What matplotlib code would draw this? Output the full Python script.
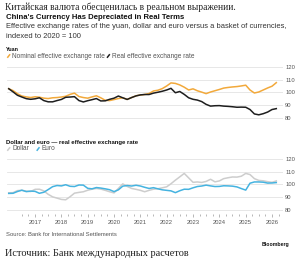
import pandas as pd
import matplotlib
matplotlib.use("Agg")
import matplotlib.pyplot as plt
from matplotlib.lines import Line2D
from matplotlib.ticker import FixedLocator, NullFormatter
import matplotlib.dates as mdates

# Data: bimonthly readings, Jan 2016 .. Mar 2026, index 2020 = 100
dates = pd.date_range("2016-01-01", periods=62, freq="2MS")

yuan_nominal = [
    103.0, 101.5, 99.0, 97.2, 96.5, 96.0, 96.6, 96.3, 95.5, 95.2,
    95.8, 96.0, 96.4, 97.0, 98.5, 99.5, 96.8, 96.0, 95.5, 96.5,
    97.4, 95.8, 93.8, 93.6, 94.4, 95.2, 95.8, 94.5, 96.0, 97.4,
    98.0, 98.4, 99.2, 101.2, 101.8, 103.1, 105.2, 107.6, 107.2, 106.0,
    104.2, 102.0, 102.9, 101.4, 100.3, 99.1, 100.4, 101.4, 102.4, 103.5,
    104.0, 104.4, 104.7, 105.2, 105.8, 102.0, 99.6, 100.4, 102.0, 103.6,
    105.0, 107.8,
]
yuan_real = [
    103.0, 100.5, 97.8, 96.4, 95.1, 94.6, 95.0, 95.8, 93.6, 92.6,
    92.6, 93.6, 94.5, 96.2, 96.4, 96.7, 93.6, 92.5, 93.5, 94.3,
    95.2, 93.3, 93.4, 94.6, 95.5, 97.2, 95.8, 94.5, 96.0, 97.3,
    98.1, 98.4, 98.4, 99.5, 100.2, 101.0, 102.0, 103.3, 99.8, 100.8,
    98.5, 95.8, 94.6, 94.0, 92.8, 90.6, 89.2, 89.5, 89.6, 89.2,
    89.0, 88.7, 88.3, 88.4, 88.3, 86.5, 83.0, 82.3, 83.2, 84.5,
    86.5, 87.2,
]
dollar_real = [
    93.5, 93.6, 95.2, 95.5, 94.8, 94.5, 96.2, 96.3, 95.0, 92.3,
    90.3, 89.3, 88.3, 88.0, 90.4, 93.2, 93.8, 94.3, 95.5, 96.3,
    96.9, 96.4, 95.4, 94.3, 93.4, 96.9, 100.5, 98.5, 96.9, 96.2,
    95.4, 94.3, 95.4, 96.3, 96.7, 97.4, 98.2, 100.6, 103.4, 106.0,
    108.7, 105.2, 101.7, 102.0, 101.6, 102.4, 104.1, 102.1, 102.8, 104.6,
    105.3, 105.9, 105.8, 106.5, 108.7, 107.8, 104.6, 103.2, 102.9, 102.2,
    101.7, 102.8,
]
euro_real = [
    93.0, 93.1, 94.5, 95.5, 94.4, 94.8, 94.6, 93.1, 93.9, 96.0,
    98.3, 99.2, 98.9, 99.8, 98.6, 98.4, 99.6, 99.5, 97.0, 96.6,
    97.6, 97.2, 96.6, 95.9, 94.4, 95.8, 98.7, 99.2, 98.8, 99.4,
    98.8, 97.8, 96.9, 97.5, 96.6, 95.8, 95.4, 95.0, 93.6, 95.1,
    96.3, 96.2, 97.4, 98.4, 98.8, 99.5, 98.9, 98.4, 98.5, 99.0,
    98.9, 98.7, 98.1, 96.8, 95.6, 101.0, 102.0, 102.0, 101.8, 101.1,
    101.2, 101.5,
]

y_ticks = [80, 90, 100, 110, 120]
year_labels = [str(y) for y in range(2017, 2027)]

ORANGE = "#f2a93b"
BLACK = "#1e1e1e"
GREY = "#cdcdcd"
BLUE = "#45b3e0"
GRID = "#e3e3e3"
TICKTXT = "#555555"

W, H = 300, 260
fig = plt.figure(figsize=(W / 100, H / 100), dpi=100)
fig.patch.set_facecolor("white")

SANS = ["Liberation Sans", "DejaVu Sans"]
SERIF = ["Liberation Serif", "DejaVu Serif"]


def fy(py):
    return 1 - py / H


def text(px, py, s, **kw):
    fig.text(px / W, fy(py), s, va="center", ha=kw.pop("ha", "left"), **kw)


def slash(px, py, color):
    fig.add_artist(Line2D([px / W, (px + 2.8) / W], [fy(py + 1.8), fy(py - 1.8)],
                          transform=fig.transFigure, color=color, lw=1.1,
                          solid_capstyle="butt"))


xlim = (pd.Timestamp("2015-12-08"), pd.Timestamp("2026-06-02"))


def style_axis(ax, show_x):
    ax.set_xlim(*xlim)
    ax.set_ylim(77, 123)
    for s in ax.spines.values():
        s.set_visible(False)
    ax.yaxis.tick_right()
    ax.set_yticks(y_ticks)
    ax.tick_params(axis="y", length=0, pad=1.6, labelsize=4.2, labelcolor=TICKTXT)
    for lab in ax.get_yticklabels():
        lab.set_family(SANS)
    ax.grid(axis="y", color=GRID, lw=0.6)
    ax.set_axisbelow(True)
    if show_x:
        majors = pd.to_datetime([f"{y}-01-01" for y in range(2017, 2027)])
        minors = pd.date_range("2016-07-01", "2026-04-01", freq="QS")
        ax.xaxis.set_major_locator(FixedLocator(mdates.date2num(majors)))
        ax.xaxis.set_minor_locator(FixedLocator(mdates.date2num(minors)))
        ax.set_xticklabels(year_labels)
        ax.xaxis.set_minor_formatter(NullFormatter())
        ax.tick_params(axis="x", which="major", length=2.2, width=0.5, color="#9a9a9a",
                       pad=2.5, labelsize=4.2, labelcolor=TICKTXT)
        ax.tick_params(axis="x", which="minor", length=1.4, width=0.5, color="#9a9a9a")
        for lab in ax.get_xticklabels():
            lab.set_family(SANS)
    else:
        ax.set_xticks([])


# Top panel: yuan
ax1 = fig.add_axes([7 / W, 0.5327, 276 / W, 0.2231])
ax1.plot(dates, yuan_nominal, color=ORANGE, lw=1.1)
ax1.plot(dates, yuan_real, color=BLACK, lw=1.1)
style_axis(ax1, False)

# Bottom panel: dollar and euro
ax2 = fig.add_axes([7 / W, 0.1777, 276 / W, 0.2254])
ax2.plot(dates, dollar_real, color=GREY, lw=1.1)
ax2.plot(dates, euro_real, color=BLUE, lw=1.1)
style_axis(ax2, True)

# Titles and labels
text(5, 7, "Китайская валюта обесценилась в реальном выражении.", family=SERIF,
     size=6.85, color="#222222")
text(6, 17.7, "China's Currency Has Depreciated in Real Terms", family=SANS,
     size=5.6, weight="bold", color="#111111")
text(6, 26.8, "Effective exchange rates of the yuan, dollar and euro versus a basket of currencies,",
     family=SANS, size=5.45, color="#333333")
text(6, 36.8, "indexed to 2020 = 100", family=SANS, size=5.45, color="#333333")

text(6, 49.3, "Yuan", family=SANS, size=3.9, weight="bold", color="#111111")
slash(7.3, 56, ORANGE)
text(12.3, 56, "Nominal effective exchange rate", family=SANS, size=4.7, color="#555555")
slash(107, 56, BLACK)
text(112, 56, "Real effective exchange rate", family=SANS, size=4.7, color="#555555")

text(6, 142.3, "Dollar and euro — real effective exchange rate", family=SANS, size=4.3,
     weight="bold", color="#111111")
slash(7.3, 149, GREY)
text(12.7, 149, "Dollar", family=SANS, size=4.7, color="#555555")
slash(36.7, 149, BLUE)
text(41.7, 149, "Euro", family=SANS, size=4.7, color="#555555")

text(6, 234.3, "Source: Bank for International Settlements", family=SANS, size=4.2,
     color="#555555")
text(289, 244.3, "Bloomberg", family=SANS, size=3.7, weight="bold", color="#111111", ha="right")
text(5, 253.5, "Источник: Банк международных расчетов", family=SERIF, size=7.35,
     color="#222222")

fig.savefig("out.png", dpi=100, facecolor="white")
